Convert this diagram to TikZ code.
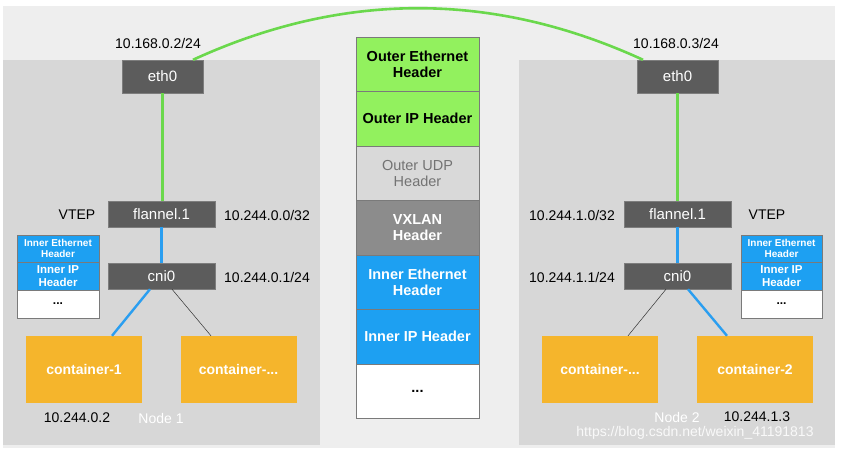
\documentclass[tikz,border=0pt]{standalone}
\usepackage{fontspec}
\setmainfont{Liberation Sans}
\usetikzlibrary{positioning}
\definecolor{bgout}{HTML}{EEEEEE}
\definecolor{panel}{HTML}{D7D7D7}
\definecolor{darkbox}{HTML}{5C5C5C}
\definecolor{orangec}{HTML}{F5B52C}
\definecolor{greenc}{HTML}{92F15E}
\definecolor{bluec}{HTML}{1DA0F2}
\definecolor{greenline}{HTML}{6AD84C}
\definecolor{blueline}{HTML}{2A9EF0}
\definecolor{udpgray}{HTML}{D9D9D9}
\definecolor{vxgray}{HTML}{8C8C8C}
\definecolor{edgegray}{HTML}{7A7A7A}
\tikzset{
  iface/.style={rectangle, fill=darkbox, draw=darkbox!80!white, text=white, inner sep=0pt, font=\fontsize{15}{17}\selectfont},
  contbox/.style={rectangle, fill=orangec, text=white, inner sep=0pt, minimum width=116pt, minimum height=67pt, font=\bfseries\fontsize{14}{16}\selectfont},
  stackrow/.style={rectangle, draw=edgegray, line width=0.8pt, inner sep=0pt, minimum width=123pt, minimum height=54.5pt, align=center, font=\bfseries\fontsize{14.5}{17}\selectfont},
  minirow/.style={rectangle, draw=edgegray, line width=0.8pt, inner sep=0pt, minimum width=82pt, align=center},
  lbl/.style={inner sep=0pt, font=\fontsize{14}{16}\selectfont},
  gline/.style={draw=greenline, line width=2.6pt},
  bline/.style={draw=blueline, line width=2.4pt},
  kline/.style={draw=black!80, line width=0.5pt},
}
\begin{document}
\begin{tikzpicture}[x=1pt, y=-1pt]
\useasboundingbox (0,0) rectangle (841,451);
\fill[white] (0,0) rectangle (841,451);
\fill[bgout] (3,6) rectangle (835,448);
% node panels
\fill[panel] (3,60) rectangle (320,445);
\fill[panel] (519,60) rectangle (835,445);

% interfaces
\node[iface, minimum width=81pt, minimum height=33pt] (eth0L) at (162.5,76.5) {eth0};
\node[iface, minimum width=81pt, minimum height=33pt] (eth0R) at (677.5,76.5) {eth0};
\node[iface, minimum width=107pt, minimum height=26pt] (flL) at (161.5,214) {flannel.1};
\node[iface, minimum width=107pt, minimum height=26pt] (flR) at (677.5,214) {flannel.1};
\node[iface, minimum width=107pt, minimum height=26pt] (cniL) at (161.5,276) {cni0};
\node[iface, minimum width=107pt, minimum height=26pt] (cniR) at (677.5,276) {cni0};

% containers
\node[contbox] (c1) at (84,369.5) {container-1};
\node[contbox] (cdL) at (238.5,369.5) {container-...};
\node[contbox] (cdR) at (600,369.5) {container-...};
\node[contbox] (c2) at (755,369.5) {container-2};

% central stack
\node[stackrow, fill=greenc] (s1) at (417.5,64.25) {Outer Ethernet\\[-1pt]Header};
\node[stackrow, fill=greenc] (s2) at (417.5,118.75) {Outer IP Header};
\node[stackrow, fill=udpgray, text=black!55, font=\fontsize{14.5}{17}\selectfont] (s3) at (417.5,173.25) {Outer UDP\\[-1pt]Header};
\node[stackrow, fill=vxgray, text=white] (s4) at (417.5,227.75) {VXLAN\\[-1pt]Header};
\node[stackrow, fill=bluec, text=white] (s5) at (417.5,282.25) {Inner Ethernet\\[-1pt]Header};
\node[stackrow, fill=bluec, text=white] (s6) at (417.5,336.75) {Inner IP Header};
\node[stackrow, fill=white] (s7) at (417.5,391.25) {...};

% small stacks
\node[minirow, fill=bluec, text=white, minimum height=27pt, font=\bfseries\fontsize{10}{11.5}\selectfont] (mL1) at (58,248.5) {Inner Ethernet\\Header};
\node[minirow, fill=bluec, text=white, minimum height=28pt, font=\bfseries\fontsize{11.5}{13}\selectfont] (mL2) at (58,276) {Inner IP\\Header};
\node[minirow, fill=white, minimum height=28pt, font=\bfseries\fontsize{12}{14}\selectfont] (mL3) at (58,304) {...};
\node[minirow, fill=bluec, text=white, minimum height=27pt, minimum width=81pt, font=\bfseries\fontsize{10}{11.5}\selectfont] (mR1) at (781.5,248.5) {Inner Ethernet\\Header};
\node[minirow, fill=bluec, text=white, minimum height=28pt, minimum width=81pt, font=\bfseries\fontsize{11.5}{13}\selectfont] (mR2) at (781.5,276) {Inner IP\\Header};
\node[minirow, fill=white, minimum height=28pt, minimum width=81pt, font=\bfseries\fontsize{12}{14}\selectfont] (mR3) at (781.5,304) {...};

% labels
\node[lbl] (ipL) at (158,43) {10.168.0.2/24};
\node[lbl] (ipR) at (676,43) {10.168.0.3/24};
\node[lbl] (vtepL) at (77,215) {VTEP};
\node[lbl] (flipL) at (267,215) {10.244.0.0/32};
\node[lbl] (flipR) at (572,215) {10.244.1.0/32};
\node[lbl] (vtepR) at (767,215) {VTEP};
\node[lbl] (cniipL) at (267,277) {10.244.0.1/24};
\node[lbl] (cniipR) at (572,277) {10.244.1.1/24};
\node[lbl] (c1ip) at (77,418) {10.244.0.2};
\node[lbl, text=white] (n1) at (161,418) {Node 1};
\node[lbl, text=white] (n2) at (677,417) {Node 2};
\node[lbl] (c2ip) at (757,417) {10.244.1.3};
\node[lbl, text=white, opacity=0.85, font=\fontsize{14}{16}\selectfont] (wm) at (695,433) {https://blog.csdn.net/weixin\_41191813};

% connectors
\draw[gline] ([xshift=30.5pt]eth0L.north) .. controls (343,-9) and (493,-9) .. ([xshift=-34.5pt]eth0R.north);
\draw[gline] (eth0L.south) -- (eth0L.south |- flL.north);
\draw[gline] (eth0R.south) -- (eth0R.south |- flR.north);
\draw[bline] (flL.south) -- (cniL.north);
\draw[bline] (flR.south) -- (cniR.north);
\draw[bline] ([xshift=-11.5pt]cniL.south) -- ([xshift=28pt]c1.north);
\draw[kline] ([xshift=10.5pt]cniL.south) -- ([xshift=-27.5pt]cdL.north);
\draw[kline] ([xshift=-11.5pt]cniR.south) -- ([xshift=28pt]cdR.north);
\draw[bline] ([xshift=10.5pt]cniR.south) -- ([xshift=-28pt]c2.north);
\end{tikzpicture}
\end{document}
